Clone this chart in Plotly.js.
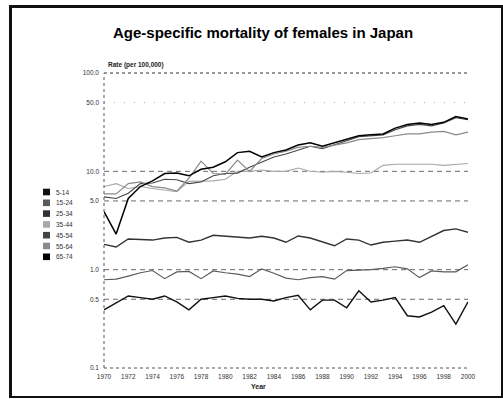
<!DOCTYPE html>
<html>
<head>
<meta charset="utf-8">
<script src="https://cdn.plot.ly/plotly-3.0.1.min.js"></script>
<style>
html,body{margin:0;padding:0;background:#fff;}
#wrap{position:relative;width:503px;height:399px;}
#chart{position:absolute;left:0;top:0;width:503px;height:399px;}
#frame{position:absolute;left:9px;top:5px;width:489px;height:388px;border:3px solid #111;border-right-width:2px;border-bottom-width:2px;pointer-events:none;}
</style>
</head>
<body>
<div id="wrap"><div id="chart"></div><div id="frame"></div></div>
<script>
// ---- data ----
const years = [1970,1971,1972,1973,1974,1975,1976,1977,1978,1979,1980,1981,1982,1983,1984,1985,1986,1987,1988,1989,1990,1991,1992,1993,1994,1995,1996,1997,1998,1999,2000];
const tickYears = [1970,1972,1974,1976,1978,1980,1982,1984,1986,1988,1990,1992,1994,1996,1998,2000];
const yTickVals = [0.1,0.5,1,5,10,50,100];
const yTickText = ["0.1","0.5","1.0","5.0","10.0","50.0","100.0"];
const groupNames = ["5-14","15-24","25-34","35-44","45-54","55-64","65-74"];
const groupColors = ["#111111","#5a5a5a","#333333","#a8a8a8","#444444","#8a8a8a","#000000"];

const age5_14  = [0.39,0.46,0.54,0.52,0.50,0.54,0.47,0.39,0.50,0.52,0.54,0.51,0.50,0.50,0.48,0.52,0.55,0.39,0.49,0.49,0.41,0.61,0.47,0.49,0.52,0.34,0.33,0.37,0.43,0.28,0.47];
const age15_24 = [0.79,0.80,0.86,0.93,0.98,0.81,0.95,0.96,0.81,0.97,0.93,0.90,0.85,1.02,0.92,0.82,0.79,0.83,0.85,0.80,0.98,0.99,1.00,1.03,1.07,1.02,0.83,0.97,0.95,0.95,1.12];
const age25_34 = [1.81,1.70,2.05,2.02,2.00,2.10,2.13,1.90,2.00,2.24,2.20,2.15,2.10,2.19,2.10,1.90,2.20,2.10,1.90,1.75,2.05,2.00,1.78,1.90,1.95,2.00,1.90,2.20,2.50,2.60,2.40];
const age35_44 = [7.0,7.5,6.7,7.0,6.7,6.4,6.2,7.9,8.0,8.0,8.3,10.0,10.0,10.3,10.0,10.0,10.8,10.0,9.8,10.0,9.8,9.5,9.6,11.5,11.8,11.8,11.9,11.8,11.5,11.7,12.0];
const age45_54 = [5.5,5.3,6.0,7.5,7.6,8.3,8.2,7.5,7.8,9.0,9.5,9.6,11.0,12.5,14.0,15.0,16.5,18.0,17.0,18.5,20.5,22.5,23.0,23.5,26.5,29.0,30.0,29.0,31.0,35.0,33.5];
const age55_64 = [5.9,5.9,7.5,7.8,7.0,6.8,6.3,8.5,12.7,9.5,9.3,13.0,10.0,13.5,15.0,16.0,17.5,18.0,17.5,18.5,19.5,21.0,21.5,22.0,23.0,24.0,24.0,25.0,25.5,23.5,25.0];
const age65_74 = [3.9,2.3,5.3,7.0,8.0,9.5,9.6,9.0,10.5,11.0,12.5,15.5,16.0,14.0,15.5,16.5,18.5,19.5,18.0,19.5,21.0,23.0,23.5,24.0,27.5,30.0,31.0,30.0,31.5,36.0,34.0];

const series = [age5_14, age15_24, age25_34, age35_44, age45_54, age55_64, age65_74];
const widths = [1.4,1.2,1.4,1.1,1.1,1.2,1.5];

const plotTop = 73, plotBottom = 368, plotLeft = 104, plotRight = 468;
const plotH = plotBottom - plotTop, plotW = plotRight - plotLeft;

const traces = series.map((vals, i) => ({
  x: years, y: vals, type: 'scatter', mode: 'lines', name: groupNames[i],
  line: {color: groupColors[i], width: widths[i], shape: 'linear'},
  showlegend: false, hoverinfo: 'skip'
}));

const shapes = [];
const annotations = [];
// horizontal gridlines at tick values (paper position from log scale)
const logMin = -1, logMax = 2;
yTickVals.forEach(v => {
  const yp = (Math.log10(v) - logMin) / (logMax - logMin);
  if (v === 100 || v === 0.1) return;
  const faint = (v === 50);
  shapes.push({type: 'line', xref: 'paper', yref: 'paper', layer: 'below', x0: 0, x1: 1, y0: yp, y1: yp,
    line: faint ? {color: '#b0b0b0', width: 1, dash: '1px,9px'} : {color: '#6a6a6a', width: 1, dash: '5px,4px'}});
});
// top line at 100 (dense dotted) and axis lines
shapes.push({type: 'line', xref: 'paper', yref: 'paper', x0: 0, x1: 1, y0: 1, y1: 1, line: {color: '#333', width: 1, dash: 'dot'}});
shapes.push({type: 'line', xref: 'paper', yref: 'paper', x0: 0, x1: 0, y0: 0, y1: 1, line: {color: '#555', width: 1, dash: 'dot'}});
shapes.push({type: 'line', xref: 'paper', yref: 'paper', x0: 0, x1: 1, y0: 0, y1: 0, line: {color: '#555', width: 1, dash: 'dot'}});

// manual legend (small rows like the reference)
const rowY0 = 192, rowStep = 10.8;
groupNames.forEach((nm, i) => {
  const py = rowY0 + i * rowStep;
  const yc = (plotBottom - py) / plotH;
  const half = 3.3 / plotH;
  shapes.push({type: 'rect', xref: 'paper', yref: 'paper',
    x0: (43 - plotLeft) / plotW, x1: (50 - plotLeft) / plotW,
    y0: yc - half, y1: yc + half, fillcolor: groupColors[i], line: {width: 0}});
  annotations.push({xref: 'paper', yref: 'paper', x: (54 - plotLeft) / plotW, y: yc,
    xanchor: 'left', yanchor: 'middle', showarrow: false, text: nm,
    font: {family: 'Liberation Sans', size: 6.5, color: '#333'}});
});

annotations.push({xref: 'paper', yref: 'paper', x: 0.005, y: 1, yshift: 2, xanchor: 'left', yanchor: 'bottom',
  showarrow: false, text: '<b>Rate (per 100,000)</b>', font: {family: 'Liberation Sans', size: 6.5, color: '#222'}});
annotations.push({xref: 'paper', yref: 'paper', x: (258 - plotLeft) / plotW, y: 0, yshift: -13, xanchor: 'center', yanchor: 'top',
  showarrow: false, text: '<b>Year</b>', font: {family: 'Liberation Sans', size: 7, color: '#222'}});

const layout = {
  width: 503, height: 399,
  margin: {l: plotLeft, r: 503 - plotRight, t: plotTop, b: 399 - plotBottom, pad: 0},
  paper_bgcolor: '#fff', plot_bgcolor: '#fff',
  title: {text: '<b>Age-specific mortality of females in Japan</b>',
    font: {family: 'Liberation Sans', size: 15, color: '#000'},
    xref: 'container', yref: 'container', x: 0.523, y: 1 - 33 / 399, xanchor: 'center', yanchor: 'middle'},
  xaxis: {range: [1970, 2000], tickvals: tickYears, ticktext: tickYears.map(String),
    showgrid: false, zeroline: false, showline: false, ticks: '', ticklabelstandoff: 3,
    tickfont: {family: 'Liberation Sans', size: 6.5, color: '#333'}},
  yaxis: {type: 'log', range: [logMin, logMax], tickvals: yTickVals, ticktext: yTickText,
    showgrid: false, zeroline: false, showline: false, ticks: '', ticklabelstandoff: 4,
    tickfont: {family: 'Liberation Sans', size: 6.5, color: '#333'}},
  showlegend: false,
  shapes: shapes, annotations: annotations
};

Plotly.newPlot('chart', traces, layout, {staticPlot: true, displayModeBar: false});
</script>
</body>
</html>
